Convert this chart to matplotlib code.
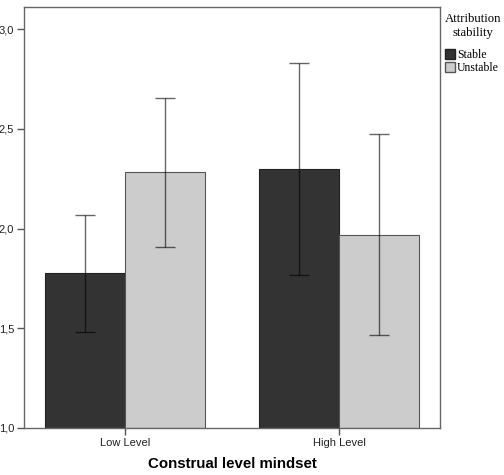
import matplotlib
matplotlib.use("Agg")
import matplotlib.pyplot as plt
import numpy as np
from matplotlib.patches import Patch

# values
categories = ["Low Level", "High Level"]
series = ["Stable", "Unstable"]
means_stable = [1.777, 2.30]
means_unstable = [2.285, 1.97]
ci_low_stable = [1.48, 1.765]
ci_high_stable = [2.068, 2.83]
ci_low_unstable = [1.909, 1.465]
ci_high_unstable = [2.655, 2.475]

colors = ["#333333", "#cccccc"]

fig = plt.figure(figsize=(5.04, 4.75), dpi=100)
ax = fig.add_axes([0.0476, 0.099, 0.873 - 0.0476, 0.985 - 0.099])

x = np.arange(len(categories))
w = 0.374
groups = [
    (means_stable, ci_low_stable, ci_high_stable),
    (means_unstable, ci_low_unstable, ci_high_unstable),
]
for i, (m, lo, hi) in enumerate(groups):
    pos = x + (i - 0.5) * w
    m = np.array(m)
    yerr = [m - np.array(lo), np.array(hi) - m]
    ax.bar(pos, m - 1.0, bottom=1.0, width=w, color=colors[i],
           edgecolor="#222222" if i == 0 else "#555555", linewidth=0.8)
    # semi-transparent black so the bar shows darker inside the bars
    ax.errorbar(pos, m, yerr=yerr, fmt="none", ecolor=(0, 0, 0, 0.6),
                elinewidth=1.0, capsize=7.2, capthick=1.0, zorder=3)

ax.set_xlim(-0.472, 1.472)
ax.set_ylim(1.0, 3.11)
ax.set_yticks([1.0, 1.5, 2.0, 2.5, 3.0])
ax.set_yticklabels(["1,0", "1,5", "2,0", "2,5", "3,0"])
ax.set_xticks(x)
ax.set_xticklabels(categories)
ax.tick_params(axis="both", direction="out", length=5, width=1,
               color="#555555", labelsize=8, labelcolor="#222222", pad=2)
for lab in ax.get_xticklabels() + ax.get_yticklabels():
    lab.set_family("Liberation Sans")
for sp in ax.spines.values():
    sp.set_color("#666666")
    sp.set_linewidth(1.0)

ax.set_xlabel("Construal level mindset", fontsize=10.8, fontweight="bold",
              family="Liberation Sans", labelpad=7)

handles = [Patch(facecolor=colors[0], edgecolor="#222222", label=series[0]),
           Patch(facecolor=colors[1], edgecolor="#555555", label=series[1])]
leg = fig.legend(handles=handles, title="Attribution\nstability",
                 loc="upper left", bbox_to_anchor=(0.882, 0.972),
                 frameon=False, handlelength=0.9, handleheight=0.9,
                 handletextpad=0.15, borderaxespad=0, labelspacing=0.1,
                 borderpad=0,
                 prop={"family": "Liberation Serif", "size": 8.5})
leg.get_title().set_fontfamily("Liberation Serif")
leg.get_title().set_fontsize(9.2)
leg.get_title().set_multialignment("center")
leg._legend_box.align = "left"
leg._legend_box.sep = 7

fig.savefig("out.png", dpi=100)
